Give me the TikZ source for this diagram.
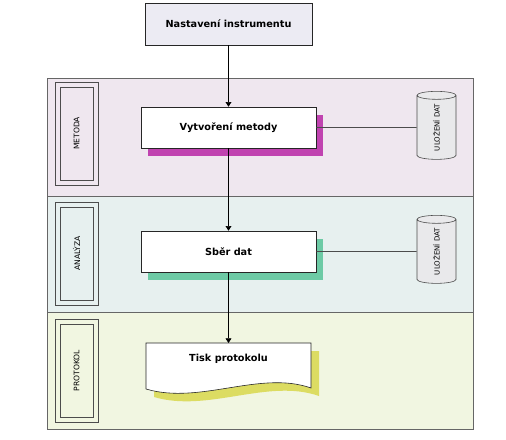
\documentclass[tikz,border=0pt]{standalone}
\usepackage{fontspec}
\setmainfont{DejaVu Sans}
\usetikzlibrary{shapes.geometric,shadows,arrows.meta}

\definecolor{metodabg}{HTML}{EFE7EF}
\definecolor{analyzabg}{HTML}{E7F0EF}
\definecolor{protokolbg}{HTML}{F1F6E1}
\definecolor{nastbg}{HTML}{ECEBF3}
\definecolor{datagray}{HTML}{E9E9EB}
\definecolor{stinmetoda}{HTML}{C043B0}
\definecolor{stinanalyza}{HTML}{6DCAA5}
\definecolor{stinprotokol}{HTML}{DCDC62}

\begin{document}
\begin{tikzpicture}[x=0.03cm, y=0.03cm,
    krok/.style={draw=black!85, fill=white, line width=0.5pt,
      minimum width=5.25cm, minimum height=1.23cm,
      font=\fontsize{8.3}{9}\selectfont\bfseries},
    pruh/.style={draw=black!60, line width=0.5pt},
    ramecek/.style={draw=black!70, line width=0.5pt, inner sep=0pt,
      minimum width=1.29cm, minimum height=3.09cm},
    stitek/.style={draw=black!70, line width=0.5pt, inner sep=0pt,
      minimum width=0.99cm, minimum height=2.79cm,
      font=\fontsize{6.5}{7}\selectfont},
    databaze/.style={cylinder, shape border rotate=90, draw=black!70,
      fill=datagray, line width=0.5pt, inner sep=0pt, aspect=1.2,
      minimum height=2.04cm, minimum width=1.17cm,
      font=\fontsize{6}{7}\selectfont},
    sipka/.style={-{Triangle[length=4pt,width=5pt]}, line width=0.6pt},
    spoj/.style={draw=black!70, line width=0.5pt}]
    \useasboundingbox (0,0) rectangle (506,439);

    % pruhy
    \draw[pruh, fill=metodabg] (47,243) rectangle (473,361);
    \draw[pruh, fill=analyzabg] (47,127) rectangle (473,243);
    \draw[pruh, fill=protokolbg] (47,10) rectangle (473,127);

    % popisky pruhu (dvojity ramecek)
    \node[ramecek] (rMetoda) at (76.5,305.5) {};
    \node[stitek] (lMetoda) at (rMetoda) {\rotatebox{90}{METODA}};
    \node[ramecek] (rAnalyza) at (76.5,185.5) {};
    \node[stitek] (lAnalyza) at (rAnalyza) {\rotatebox{90}{ANALÝZA}};
    \node[ramecek] (rProtokol) at (76.5,68.5) {};
    \node[stitek] (lProtokol) at (rProtokol) {\rotatebox{90}{PROTOKOL}};

    % kroky
    \node[krok, fill=nastbg, minimum width=5.01cm, minimum height=1.26cm]
      (nastaveni) at (228.5,415) {Nastavení instrumentu};
    \node[krok, drop shadow={shadow xshift=0.21cm, shadow yshift=-0.24cm,
      fill=stinmetoda, opacity=1}]
      (vytvoreni) at (228.5,311.5) {Vytvoření metody};
    \node[krok, drop shadow={shadow xshift=0.21cm, shadow yshift=-0.24cm,
      fill=stinanalyza, opacity=1}]
      (sber) at (228.5,187.5) {Sběr dat};

    % dokument
    \fill[stinprotokol] (154,88) -- (319,88) -- (319,43)
      .. controls (268,61) and (208,26) .. (154,42) -- cycle;
    \draw[fill=white, draw=black!85, line width=0.5pt] (146,96) -- (311,96) -- (311,51)
      .. controls (260,69) and (200,34) .. (146,50) -- cycle;
    \node[font=\fontsize{8.3}{9}\selectfont\bfseries] (tisk) at (228.5,80) {Tisk protokolu};
    \coordinate (tiskTop) at (228.5,96);

    % ulozeni dat
    \node[databaze] (ulozeni1) at (436.5,311.5) {\rotatebox{90}{ULOŽENÍ DAT}};
    \node[databaze] (ulozeni2) at (436.5,187.5) {\rotatebox{90}{ULOŽENÍ DAT}};

    % spoje
    \draw[sipka] (nastaveni) -- (vytvoreni);
    \draw[sipka] (vytvoreni) -- (sber);
    \draw[sipka] (sber) -- (tiskTop);
    \draw[spoj] (vytvoreni.east) -- (ulozeni1);
    \draw[spoj] (sber.east) -- (ulozeni2);
\end{tikzpicture}
\end{document}
